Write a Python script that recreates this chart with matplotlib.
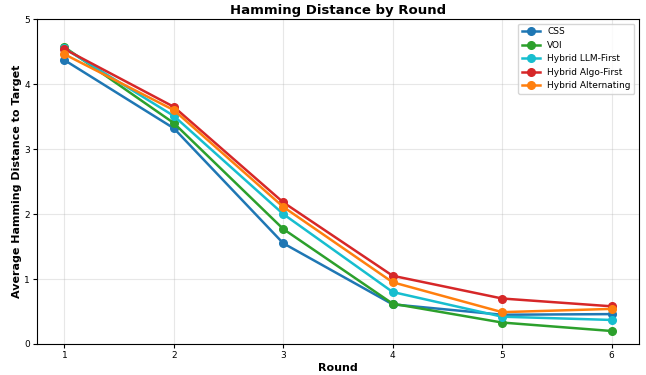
import matplotlib.pyplot as plt

rounds = [1, 2, 3, 4, 5, 6]
css = [4.37, 3.32, 1.55, 0.61, 0.45, 0.46]
voi = [4.57, 3.40, 1.77, 0.62, 0.33, 0.20]
llm_first = [4.55, 3.51, 2.00, 0.80, 0.42, 0.37]
algo_first = [4.54, 3.65, 2.18, 1.05, 0.70, 0.58]
alternating = [4.46, 3.60, 2.11, 0.95, 0.49, 0.54]

series = [
    ('CSS', css, '#1f77b4'),
    ('VOI', voi, '#2ca02c'),
    ('Hybrid LLM-First', llm_first, '#17becf'),
    ('Hybrid Algo-First', algo_first, '#d62728'),
    ('Hybrid Alternating', alternating, '#ff7f0e'),
]

fig, ax = plt.subplots(figsize=(6.46, 3.75), dpi=100)
fig.subplots_adjust(left=0.0573, right=0.989, top=0.949, bottom=0.0827)

for name, vals, color in series:
    ax.plot(rounds, vals, marker='o', color=color, label=name, linewidth=1.8, markersize=5.5)

ax.set_ylim(0, 5)
ax.set_xticks(rounds)
ax.tick_params(labelsize=6.5, pad=2, length=3)
ax.grid(True, alpha=0.3)
ax.set_xlabel('Round', fontsize=8, fontweight='bold', labelpad=2)
ax.set_ylabel('Average Hamming Distance to Target', fontsize=8, fontweight='bold', labelpad=2)
ax.set_title('Hamming Distance by Round', fontsize=9.5, fontweight='bold', pad=4)
ax.legend(fontsize=6.5, loc='upper right')

fig.savefig('out.png')
